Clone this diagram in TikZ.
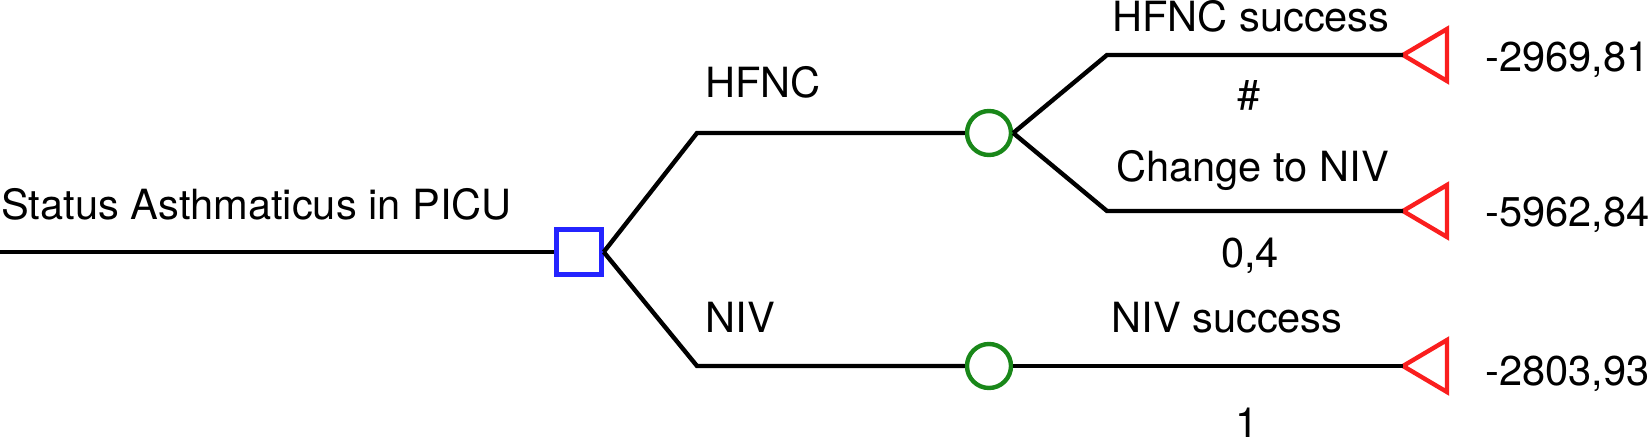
\documentclass[tikz,border=0pt]{standalone}
\usepackage{fontspec}
\setmainfont{TeX Gyre Heros}
\definecolor{decblue}{RGB}{36,36,255}
\definecolor{chgreen}{RGB}{25,135,25}
\definecolor{termred}{RGB}{250,30,30}
\begin{document}
\begin{tikzpicture}[x=0.5pt,y=-0.5pt,
  every node/.style={font=\fontsize{20.8pt}{25pt}\selectfont},
  lbl/.style={inner sep=0pt,anchor=base west},
  lblc/.style={inner sep=0pt,anchor=base},
  decnode/.style={draw=decblue,line width=2.2pt,minimum size=22.5pt,inner sep=0pt,shape=rectangle},
  chnode/.style={draw=chgreen,line width=2.2pt,minimum size=22pt,inner sep=0pt,shape=circle},
  term/.style={draw=termred,line width=2.2pt,line join=miter},
  edge/.style={draw=black,line width=2.2pt,line join=miter}]
\useasboundingbox (0,0) rectangle (1649,438);
% nodes
\coordinate (root) at (0,252);
\node[decnode] (dec) at (579,252) {};
\node[chnode] (c1) at (989,133) {};
\node[chnode] (c2) at (989,366) {};
\coordinate (k1) at (697,133);
\coordinate (k2) at (697,366);
\coordinate (k3) at (1107,55);
\coordinate (k4) at (1107,211);
\coordinate (t1) at (1403,55);
\coordinate (t2) at (1403,211);
\coordinate (t3) at (1403,366);
% terminals
\foreach \t in {t1,t2,t3}{
  \draw[term] (\t) -- ++(44,-26) -- ++(0,52) -- cycle;
}
% connectors
\draw[edge] (root) -- (dec.west);
\draw[edge] (dec.east) -- (k1) -- (c1.west);
\draw[edge] (dec.east) -- (k2) -- (c2.west);
\draw[edge] (c1.east) -- (k3) -- (t1);
\draw[edge] (c1.east) -- (k4) -- (t2);
\draw[edge] (c2.east) -- (t3);
% labels
\node[lbl] (lroot) at (1,220) {Status Asthmaticus in PICU};
\node[lbl] (lhfnc) at (705,98) {HFNC};
\node[lbl] (lniv) at (705,333) {NIV};
\node[lbl] (ls1) at (1112,32) {HFNC success};
\node[lblc] (lp1) at (1249,110) {\#};
\node[lbl] (ls2) at (1116,182) {Change to NIV};
\node[lblc] (lp2) at (1250,268) {0,4};
\node[lbl] (ls3) at (1111,333) {NIV success};
\node[lblc] (lp3) at (1247,437) {1};
\node[lbl] (v1) at (1485,72) {-2969,81};
\node[lbl] (v2) at (1485,227) {-5962,84};
\node[lbl] (v3) at (1485,385) {-2803,93};
\end{tikzpicture}
\end{document}
